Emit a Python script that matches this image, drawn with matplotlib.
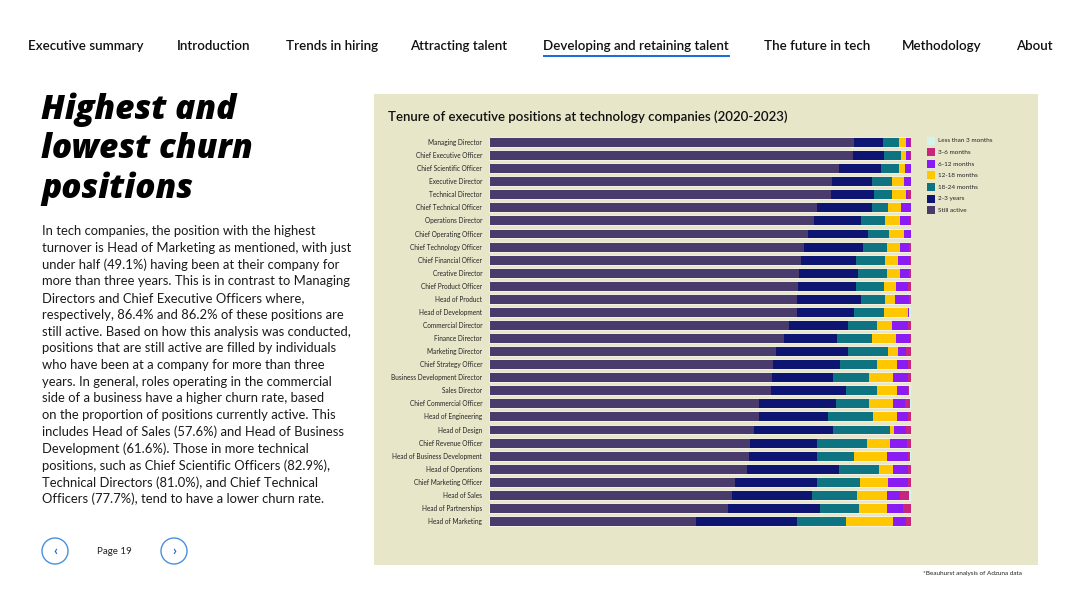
import matplotlib
matplotlib.use("Agg")
import matplotlib.pyplot as plt
from matplotlib.patches import Rectangle, Ellipse
import numpy as np

plt.rcParams['font.family'] = ['Lato', 'DejaVu Sans']

# roles, top to bottom
roles = ["Managing Director", "Chief Executive Officer", "Chief Scientific Officer",
         "Executive Director", "Technical Director", "Chief Technical Officer",
         "Operations Director", "Chief Operating Officer", "Chief Technology Officer",
         "Chief Financial Officer", "Creative Director", "Chief Product Officer",
         "Head of Product", "Head of Development", "Commercial Director",
         "Finance Director", "Marketing Director", "Chief Strategy Officer",
         "Business Development Director", "Sales Director", "Chief Commercial Officer",
         "Head of Engineering", "Head of Design", "Chief Revenue Officer",
         "Head of Business Development", "Head of Operations", "Chief Marketing Officer",
         "Head of Sales", "Head of Partnerships", "Head of Marketing"]

still_active = [86.4, 86.2, 82.9, 81.2, 81.0, 77.7, 77.0, 75.6, 74.7, 74.0,
                73.5, 73.2, 73.1, 72.9, 71.0, 70.0, 68.1, 67.2, 67.1, 66.9,
                64.0, 64.0, 62.8, 61.9, 61.6, 61.1, 58.3, 57.6, 56.6, 49.1]
y2_3 = [7.0, 7.4, 10.0, 9.6, 10.3, 13.1, 11.1, 14.2, 14.0, 13.0,
        14.0, 13.7, 15.0, 13.6, 14.1, 12.4, 17.0, 15.9, 14.4, 17.8,
        18.2, 16.3, 18.6, 15.9, 16.2, 21.9, 19.4, 19.0, 21.8, 24.0]
m18_24 = [3.7, 4.0, 4.2, 4.8, 4.2, 3.7, 5.8, 5.1, 5.5, 6.9,
          6.7, 6.7, 5.7, 7.1, 6.9, 8.4, 9.5, 8.8, 8.6, 7.3,
          7.9, 10.7, 13.6, 11.7, 8.8, 9.5, 10.3, 10.7, 9.3, 11.6]
m12_18 = [1.8, 1.3, 1.5, 2.8, 3.3, 3.2, 3.5, 3.5, 3.1, 3.1,
          3.1, 2.9, 2.3, 5.6, 3.4, 5.6, 2.4, 4.9, 5.6, 4.8,
          5.7, 5.6, 0.9, 5.5, 7.8, 3.3, 6.6, 6.9, 6.5, 11.0]
m6_12 = [0.9, 0.9, 1.3, 1.6, 0.5, 2.3, 2.3, 1.6, 2.3, 2.8,
         2.3, 2.7, 3.5, 0.3, 3.8, 3.4, 1.8, 2.4, 3.5, 2.6,
         2.7, 2.6, 3.0, 4.0, 4.8, 3.4, 4.6, 3.1, 3.8, 3.0]
m3_6 = [0.2, 0.2, 0.1, 0.0, 0.7, 0.0, 0.3, 0.0, 0.4, 0.2,
        0.4, 0.8, 0.4, 0.0, 0.8, 0.2, 1.2, 0.8, 0.8, 0.1,
        1.2, 0.8, 1.1, 1.0, 0.6, 0.8, 0.8, 2.2, 2.0, 1.3]
lt3 = [0.0, 0.0, 0.0, 0.0, 0.0, 0.0, 0.0, 0.0, 0.0, 0.0,
       0.0, 0.0, 0.0, 0.5, 0.0, 0.0, 0.0, 0.0, 0.0, 0.5,
       0.3, 0.0, 0.0, 0.0, 0.2, 0.0, 0.0, 0.5, 0.0, 0.0]

series_names = ["Still active", "2-3 years", "18-24 months", "12-18 months",
                "6-12 months", "3-6 months", "Less than 3 months"]
series_vals = [still_active, y2_3, m18_24, m12_18, m6_12, m3_6, lt3]
series_cols = ["#4a3b6d", "#0d1471", "#0e7482", "#fec700", "#8a1cf3", "#c8257d", "#d2f4ec"]

nav_items = ["Executive summary", "Introduction", "Trends in hiring", "Attracting talent",
             "Developing and retaining talent", "The future in tech", "Methodology", "About"]
nav_x = [28, 177, 286, 410, 543, 764, 902, 1016]

heading = ["Highest and", "lowest churn", "positions"]
body = ["In tech companies, the position with the highest",
        "turnover is Head of Marketing as mentioned, with just",
        "under half (49.1%) having been at their company for",
        "more than three years. This is in contrast to Managing",
        "Directors and Chief Executive Officers where,",
        "respectively, 86.4% and 86.2% of these positions are",
        "still active. Based on how this analysis was conducted,",
        "positions that are still active are filled by individuals",
        "who have been at a company for more than three",
        "years. In general, roles operating in the commercial",
        "side of a business have a higher churn rate, based",
        "on the proportion of positions currently active. This",
        "includes Head of Sales (57.6%) and Head of Business",
        "Development (61.6%). Those in more technical",
        "positions, such as Chief Scientific Officers (82.9%),",
        "Technical Directors (81.0%), and Chief Technical",
        "Officers (77.7%), tend to have a lower churn rate."]

W, H = 1080, 607
fig = plt.figure(figsize=(W / 100, H / 100), dpi=100)
fig.patch.set_facecolor("white")


def fx(px):
  return px / W


def fy(py):
  return 1 - py / H


# nav bar
for name, x in zip(nav_items, nav_x):
  fig.text(fx(x), fy(46), name, fontsize=9.6, fontweight="semibold",
           color="#111111", va="center", ha="left")
fig.add_artist(Rectangle((fx(543), fy(57)), fx(730 - 543), 2.2 / H,
                         transform=fig.transFigure, color="#1a6fd9", lw=0))

# heading and body text
for i, line in enumerate(heading):
  fig.text(fx(41), fy(110 + i * 39.5), line, fontsize=24, fontweight="heavy",
           style="italic", color="#000000", va="center", ha="left",
           family=["Open Sans", "DejaVu Sans"])
for i, line in enumerate(body):
  fig.text(fx(42), fy(231 + i * 16.75), line, fontsize=9.35, color="#1a1a1a",
           va="center", ha="left")

# page navigation
for cx in [55, 174]:
  fig.add_artist(Ellipse((fx(cx), fy(551)), 26 / W, 26 / H, transform=fig.transFigure,
                         facecolor="none", edgecolor="#4a8fe0", lw=1.0))
fig.text(fx(97), fy(552), "Page 19", fontsize=7, color="#222222", va="center")
fig.text(fx(55), fy(551), "‹", fontsize=10, color="#1a6fd9", va="center",
         ha="center", fontweight="bold")
fig.text(fx(174), fy(551), "›", fontsize=10, color="#1a6fd9", va="center",
         ha="center", fontweight="bold")

# chart panel
fig.add_artist(Rectangle((fx(374), fy(565)), fx(1038 - 374), (565 - 94) / H,
                         transform=fig.transFigure, facecolor="#e8e6c9", lw=0,
                         zorder=0))
fig.text(fx(388), fy(117), "Tenure of executive positions at technology companies (2020-2023)",
         fontsize=9.55, fontweight="semibold", color="#111111", va="center")

ax = fig.add_axes([fx(489), fy(527.5), fx(911 - 489), (527.5 - 135.5) / H])
ax.set_facecolor("none")
ypos = np.arange(len(roles))
left = np.zeros(len(roles))
for name, vals, col in zip(series_names, series_vals, series_cols):
  vals = np.array(vals)
  ax.barh(ypos, vals, left=left, height=0.76, color=col, label=name, lw=0)
  left = left + vals
ax.barh(ypos, left, height=0.76, facecolor="none", edgecolor="#f3f2e4", lw=0.7)
ax.set_xlim(0, 100)
ax.set_ylim(len(roles) - 0.5, -0.5)
ax.set_yticks(ypos)
ax.set_yticklabels(roles, fontsize=4.7, color="#222222")
ax.tick_params(axis="y", length=0, pad=5)
ax.set_xticks([])
for s in ax.spines.values():
  s.set_visible(False)

# legend
leg_names = series_names[::-1]
leg_cols = series_cols[::-1]
for i, (name, col) in enumerate(zip(leg_names, leg_cols)):
  yy = 141 + i * 11.5
  fig.add_artist(Rectangle((fx(927), fy(yy + 4)), 8 / W, 8 / H,
                           transform=fig.transFigure, facecolor=col, lw=0))
  fig.text(fx(938), fy(yy), name, fontsize=4.6, color="#222222", va="center")

fig.text(fx(923), fy(574), "*Beauhurst analysis of Adzuna data", fontsize=4.6,
         color="#222222", va="center")

fig.savefig("out.png", dpi=100, facecolor="white")
